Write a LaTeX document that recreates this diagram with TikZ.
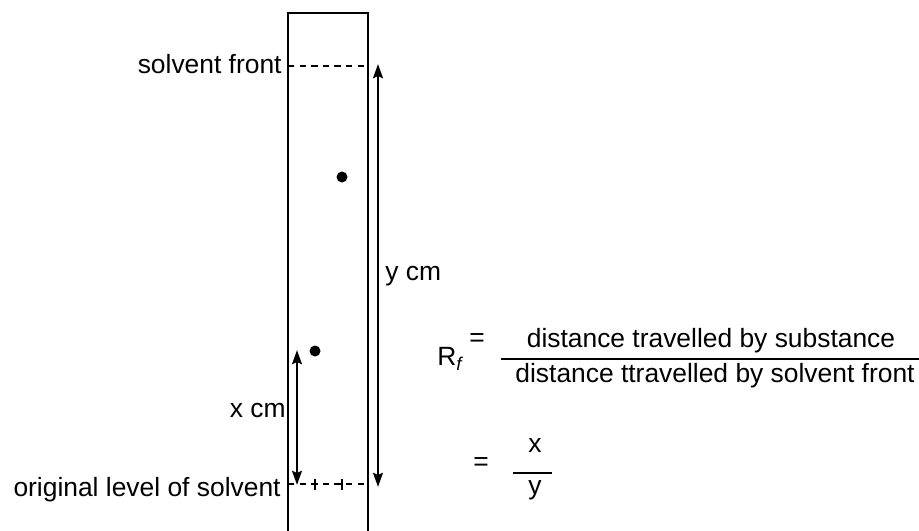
\documentclass[tikz,border=0pt]{standalone}
\usepackage{fontspec}
\setmainfont{Liberation Sans}
\usetikzlibrary{arrows.meta}
\begin{document}
\begin{tikzpicture}[x=0.5pt, y=-0.5pt, font=\fontsize{13.2}{15}\selectfont,
    level/.style={line width=0.8pt, dash pattern=on 3.2pt off 2.6pt},
    measure/.style={{Stealth[length=7pt,width=4.8pt,inset=1pt]}-{Stealth[length=7pt,width=4.8pt,inset=1pt]}, line width=1.4pt}]
  \useasboundingbox (0,0) rectangle (919,530);
  % strip of paper
  \draw[line width=0.8pt] (288,540) -- (288,13) -- (368,13) -- (368,540);
  \coordinate (front-l) at (288,66);  \coordinate (front-r) at (368,66);
  \coordinate (base-l) at (288,484);  \coordinate (base-r) at (368,484);
  \draw[level] (front-l) -- (front-r);
  \draw[level] (base-l) -- (base-r);
  % spots and their starting marks
  \foreach \name/\x/\y in {upper/342/177, lower/315/351} {
    \fill (\x,\y) circle (5.5) coordinate (spot-\name);
    \draw[line width=0.9pt] (\x,479) -- (\x,490);
  }
  % distances
  \coordinate (ytop) at (378,64);  \coordinate (ybot) at (378,487);
  \coordinate (xtop) at (297,350); \coordinate (xbot) at (297,485);
  \draw[measure] (ytop) -- (ybot);
  \draw[measure] (xtop) -- (xbot);
  % labels
  \node[anchor=base east, inner sep=0] (front) at (282,73) {solvent front};
  \node[anchor=base east, inner sep=0] (orig) at (281,496) {original level of solvent};
  \node[anchor=base west, inner sep=0] (ycm) at (385,280) {y cm};
  \node[anchor=base east, inner sep=0] (xcm) at (286,417) {x cm};
  % formula
  \node[anchor=base west, inner sep=0] (rf) at (437,365) {R\textsubscript{\textit{f}}};
  \node[anchor=base west, inner sep=0] (eq1) at (469,346) {=};
  \node[anchor=base, inner sep=0] (num) at (711,347) {distance travelled by substance};
  \draw[line width=1.1pt] (501,359) -- (919,359);
  \node[anchor=base, inner sep=0] (den) at (715,382) {distance ttravelled by solvent front};
  \node[anchor=base west, inner sep=0] (eq2) at (473,470) {=};
  \node[anchor=base, inner sep=0] (xnum) at (535,452) {x};
  \draw[line width=0.7pt] (513,473) -- (552,473);
  \node[anchor=base, inner sep=0] (yden) at (535,494) {y};
\end{tikzpicture}
\end{document}
